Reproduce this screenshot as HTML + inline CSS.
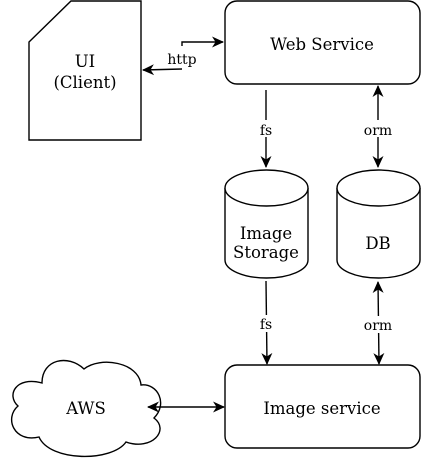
<!DOCTYPE html>
<html><head><style>html,body{margin:0;padding:0;background:#fff}</style></head><body>
<svg width="423" height="465" viewBox="0 0 423 465" xmlns="http://www.w3.org/2000/svg" font-family="'DejaVu Serif','Liberation Serif',serif" font-size="16.5">
<defs>
<marker id="a" markerWidth="12" markerHeight="12" refX="11" refY="6" orient="auto" markerUnits="userSpaceOnUse"><path d="M0,0.5 L12,6 L0,11.5 L3.5,6 Z" fill="#000"/></marker>
<marker id="s" markerWidth="12" markerHeight="12" refX="1" refY="6" orient="auto" markerUnits="userSpaceOnUse"><path d="M12,0.5 L0,6 L12,11.5 L8.5,6 Z" fill="#000"/></marker>
</defs>
<g fill="#fff" stroke="#000" stroke-width="1.4">
<path d="M29,42 L71,1 L141,1 L141,140 L29,140 Z"/>
<rect x="225" y="1" width="195" height="83" rx="12"/>
<rect x="225" y="365" width="195" height="83" rx="12"/>
<path d="M225,188 A41.5,18 0 0 1 308,188 L308,260 A41.5,18 0 0 1 225,260 Z"/>
<path d="M225,188 A41.5,18 0 0 0 308,188"/>
<path d="M337,188 A41.5,18 0 0 1 420,188 L420,260 A41.5,18 0 0 1 337,260 Z"/>
<path d="M337,188 A41.5,18 0 0 0 420,188"/>
<path d="M42,383 C16,376 6,395 18,406 C4,418 14,443 39,437 C50,462 112,462 126,442 C152,451 170,430 154,418 C168,404 158,383 141,385 C139,362 100,356 84,369 C68,354 42,359 42,383 Z"/>
</g>
<g stroke="#000" stroke-width="1.4" fill="none">
<path d="M182,46 L182,42 L223,42" marker-end="url(#a)"/>
<path d="M182,69 L143,70" marker-end="url(#a)"/>
<line x1="266" y1="90" x2="266" y2="167" marker-end="url(#a)"/>
<line x1="378" y1="86" x2="378" y2="167" marker-start="url(#s)" marker-end="url(#a)"/>
<line x1="266" y1="281" x2="267" y2="364" marker-end="url(#a)"/>
<line x1="378" y1="282" x2="379" y2="364" marker-start="url(#s)" marker-end="url(#a)"/>
<line x1="148" y1="407" x2="224" y2="407" marker-start="url(#s)" marker-end="url(#a)"/>
</g>
<g text-anchor="middle" fill="#000">
<text x="85" y="67">UI</text>
<text x="85" y="88">(Client)</text>
<text x="322" y="50">Web Service</text>
<text x="266" y="239">Image</text>
<text x="266" y="258">Storage</text>
<text x="378" y="249">DB</text>
<text x="322" y="414">Image service</text>
<text x="86" y="414">AWS</text>
<rect x="255" y="120" width="22" height="17" fill="#fff"/>
<text x="266" y="135" font-size="14">fs</text>
<rect x="358" y="120" width="40" height="17" fill="#fff"/>
<text x="378" y="135" font-size="14">orm</text>
<rect x="255" y="315" width="22" height="17" fill="#fff"/>
<text x="266" y="329" font-size="14">fs</text>
<rect x="358" y="316" width="40" height="17" fill="#fff"/>
<text x="378" y="330" font-size="14">orm</text>
<text x="182" y="64" font-size="14">http</text>
</g>
</svg>
</body></html>
